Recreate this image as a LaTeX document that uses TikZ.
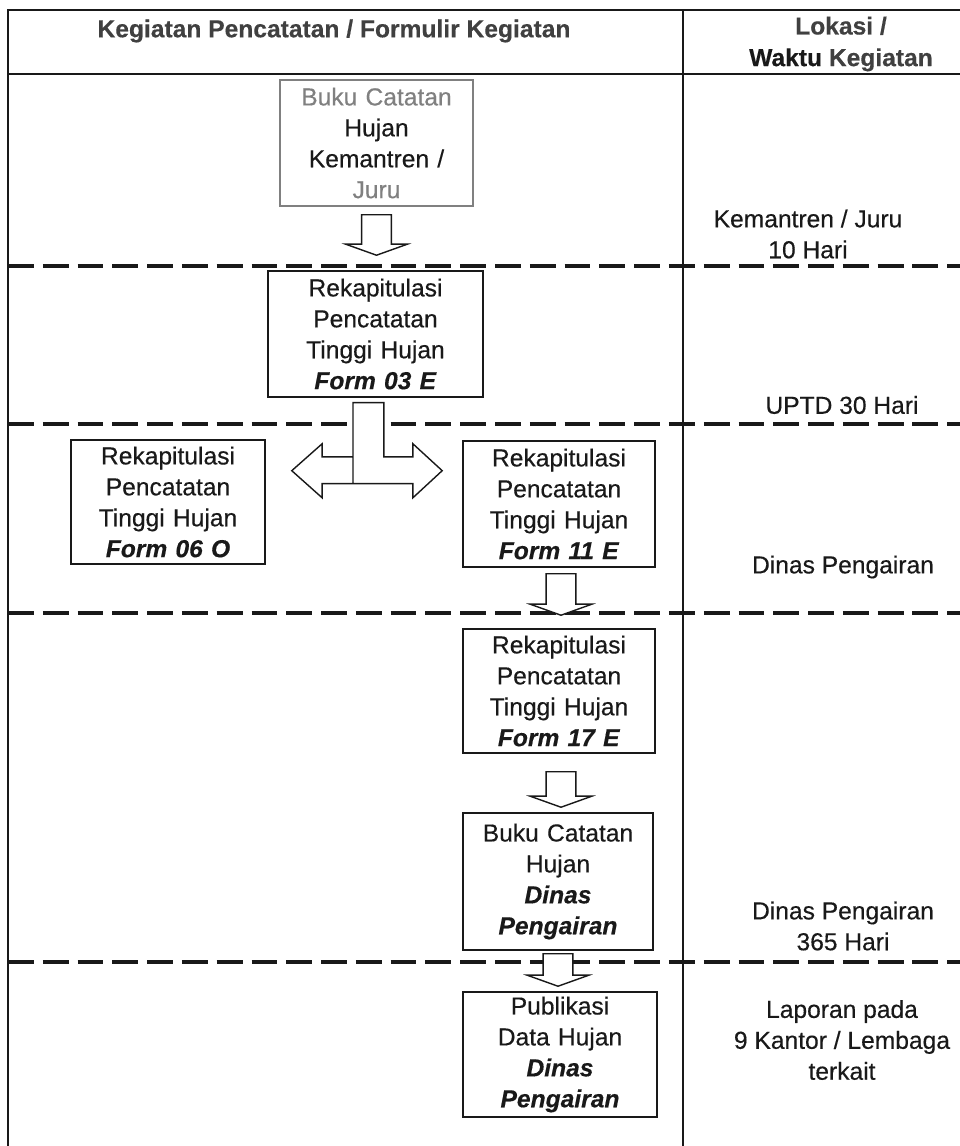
\documentclass[tikz,border=0pt]{standalone}
\usepackage{fontspec}
\setmainfont{Liberation Sans}[FakeBold=0.35]
\usetikzlibrary{calc}
\definecolor{abu}{gray}{0.5}
\definecolor{teks}{gray}{0.1}
\tikzset{
  kotak/.style={draw=teks, line width=0.9pt, fill=white, inner sep=0pt, align=center, text=teks},
  blok/.style={draw=teks, line width=0.8pt, fill=white, line join=miter},
  tabel/.style={draw=teks, line width=1.6pt},
  putus/.style={draw=teks, line width=2.3pt, dash pattern=on 14.7pt off 5.1pt},
  ket/.style={align=center, text=teks}
}
% block arrow pointing down: #1 = top of stem, #2 = tip
\newcommand{\panahbawah}[2]{%
  \draw[blok] let \p1=(#1), \p2=(#2) in
    (\x1-8.5pt,\y1) -- (\x1+8.5pt,\y1) -- (\x1+8.5pt,\y2+6.3pt) -- (\x1+17.6pt,\y2+6.3pt)
    -- (\x1,\y2) -- (\x1-17.6pt,\y2+6.3pt) -- (\x1-8.5pt,\y2+6.3pt) -- cycle;}
\newcommand{\fm}[1]{\textbf{\textit{#1}}}

\begin{document}
\begin{tikzpicture}[x=0.02cm, y=-0.02cm, font=\fontsize{14pt}{17.6pt}\selectfont]

        \useasboundingbox (0,0) rectangle (960,1146);
        \clip (0,0) rectangle (960,1146);

        % Table frame
        \draw[tabel] (975,10) -- (8,10) -- (8,1160);
        \draw[tabel] (8,74) -- (975,74);
        \draw[tabel] (683,10) -- (683,1160);

        % Dashed separators
        \foreach \yy in {266,424,613,962}
            \draw[putus] (8,\yy) -- (975,\yy);

        % Header
        \node[ket, font=\fontsize{14pt}{17pt}\selectfont\bfseries, text=black!75] (h1) at (334,31) {Kegiatan Pencatatan / Formulir Kegiatan};
        \node[ket, font=\fontsize{14pt}{18pt}\selectfont\bfseries, text=black!75] (h2) at (841,44) {Lokasi /\\\textcolor{teks}{Waktu} Kegiatan};

        % Boxes of the left column
        \node[kotak, draw=abu, text width=3.86cm, minimum height=2.52cm] (b1) at (376.5,143)
            {\textcolor{abu}{Buku Catatan}\\Hujan\\Kemantren /\\\textcolor{abu}{Juru}};
        \node[kotak, text width=4.3cm, minimum height=2.52cm] (b2) at (375.5,334)
            {Rekapitulasi\\Pencatatan\\Tinggi Hujan\\\fm{Form 03 E}};
        \node[kotak, text width=3.88cm, minimum height=2.48cm] (b3) at (168,502)
            {Rekapitulasi\\Pencatatan\\Tinggi Hujan\\\fm{Form 06 O}};
        \node[kotak, text width=3.84cm, minimum height=2.52cm] (b4) at (559,504)
            {Rekapitulasi\\Pencatatan\\Tinggi Hujan\\\fm{Form 11 E}};
        \node[kotak, text width=3.84cm, minimum height=2.48cm] (b5) at (559,691)
            {Rekapitulasi\\Pencatatan\\Tinggi Hujan\\\fm{Form 17 E}};
        \node[kotak, text width=3.8cm, minimum height=2.74cm] (b6) at (558,881.5)
            {Buku Catatan\\Hujan\\\fm{Dinas}\\\fm{Pengairan}};
        \node[kotak, text width=3.88cm, minimum height=2.5cm] (b7) at (560,1054.5)
            {Publikasi\\Data Hujan\\\fm{Dinas}\\\fm{Pengairan}};

        % Location / time column
        \node[ket] (r1) at (808,234) {Kemantren / Juru\\10 Hari};
        \node[ket] (r2) at (842,405) {UPTD 30 Hari};
        \node[ket] (r3) at (843,567) {Dinas Pengairan};
        \node[ket] (r4) at (843,926) {Dinas Pengairan\\365 Hari};
        \node[ket] (r5) at (842,1040) {Laporan pada\\9 Kantor / Lembaga\\terkait};

        % Block arrows
        \panahbawah{$(b1.south)+(0,8)$}{$(b2.north)+(0,-15)$}
        \panahbawah{$(b4.south)+(2,6)$}{$(b5.north)+(2,-13)$}
        \panahbawah{$(b5.south)+(2,18)$}{$(b6.north)+(2,-5)$}
        \panahbawah{$(b6.south)+(0,3)$}{$(b7.north)+(0,-5)$}

        % Split arrow from Form 03 E to both sides
        \draw[blok] let \p1=(b2.south), \p2=(b3.east), \p3=(b4.west) in
            (\x1-12.8pt,\y1-2.8pt) -- (\x1+4.8pt,\y1-2.8pt) -- (\x1+4.8pt,\y1-33.6pt)
            -- (\x1+21.3pt,\y1-33.6pt) -- (\x1+21.3pt,\y1-26.2pt) -- (\x3-11.4pt,\y1-41.5pt)
            -- (\x1+21.3pt,\y1-56.9pt) -- (\x1+21.3pt,\y1-48.9pt) -- (\x1-30.4pt,\y1-48.9pt)
            -- (\x1-30.4pt,\y1-56.9pt) -- (\x2+14.8pt,\y1-41.5pt) -- (\x1-30.4pt,\y1-26.2pt)
            -- (\x1-30.4pt,\y1-33.6pt) -- (\x1-12.8pt,\y1-33.6pt) -- cycle
            (\x1-12.8pt,\y1-33.6pt) -- (\x1-12.8pt,\y1-48.9pt);

\end{tikzpicture}
\end{document}
